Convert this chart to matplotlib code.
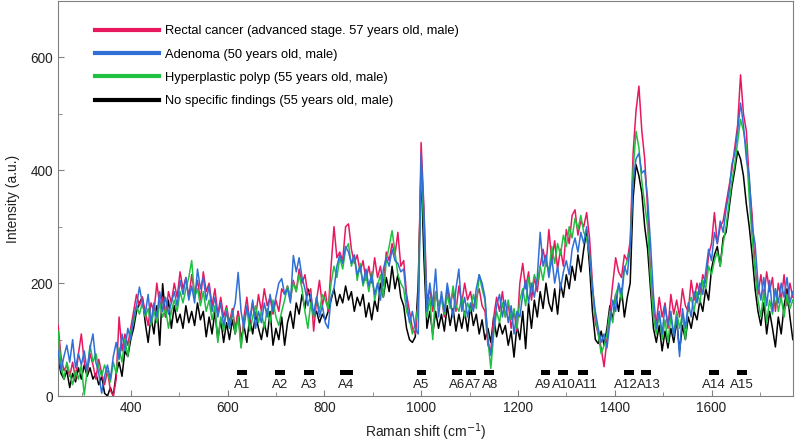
import numpy as np
import matplotlib

matplotlib.use("Agg")
import matplotlib.pyplot as plt
from matplotlib.ticker import MultipleLocator

# Raman shift grid (cm^-1), 6 cm^-1 spacing
shift = np.arange(250, 1769, 6)

rectal = [
    125, 70, 45, 55, 35, 60, 30, 75, 110, 60,
    40, 75, 55, 30, 65, 40, 20, 45, 10, 0,
    30, 140, 80, 110, 90, 120, 150, 180, 160, 175,
    150, 125, 165, 150, 200, 160, 175, 140, 185, 165,
    200, 175, 220, 190, 210, 175, 215, 180, 205, 170,
    220, 185, 200, 160, 190, 145, 175, 140, 160, 130,
    155, 120, 150, 87, 140, 175, 130, 165, 140, 180,
    150, 190, 160, 175, 145, 170, 150, 190, 180, 195,
    170, 205, 185, 225, 200, 215, 180, 190, 115, 170,
    205, 160, 185, 150, 230, 300, 245, 255, 240, 300,
    305, 260, 235, 250, 220, 240, 205, 230, 200, 245,
    210, 230, 195, 255, 240, 270, 250, 290, 230, 240,
    180, 150, 120, 110, 170, 449, 330, 170, 190, 150,
    185, 160, 175, 140, 190, 160, 185, 150, 195, 165,
    200, 170, 185, 155, 175, 190, 160, 150, 90, 80,
    140, 175, 150, 185, 140, 165, 120, 150, 115, 200,
    235, 190, 220, 170, 210, 185, 230, 260, 230, 295,
    240, 275, 225, 260, 230, 295, 270, 320, 330, 285,
    310, 300, 325, 280, 200, 130, 110, 85, 52, 100,
    150, 200, 245, 220, 210, 250, 240, 275, 430, 505,
    549, 470, 420, 330, 220, 150, 130, 175, 140, 165,
    120, 180, 145, 170, 140, 190, 160, 150, 205, 170,
    200, 180, 215, 200, 250, 270, 325, 270, 300, 310,
    340, 370, 400, 440, 480, 569, 500, 470, 380, 320,
    230, 180, 215, 175, 220, 185, 210, 150, 200, 170,
    215, 160, 200, 175,
]

adenoma = [
    80, 45, 70, 90, 60, 100, 50, 75, 55, 80,
    45, 85, 110, 60, 40, 5, 35, 55, 30, 70,
    95, 65, 110, 80, 120, 100, 140, 160, 193, 165,
    145, 180, 130, 165, 140, 185, 150, 175, 145, 165,
    185, 160, 205, 180, 210, 170, 195, 165, 225, 190,
    210, 170, 195, 150, 175, 140, 165, 125, 150, 120,
    145, 165, 219, 150, 120, 160, 135, 170, 120, 150,
    130, 165, 140, 180, 150, 175, 200, 208, 180, 190,
    165, 249, 220, 245, 210, 190, 160, 180, 145, 175,
    140, 160, 130, 120, 175, 190, 230, 250, 235, 265,
    255, 235, 250, 215, 230, 200, 225, 195, 215, 180,
    200, 170, 225, 245, 230, 260, 240, 235, 220, 225,
    170, 130, 150, 120, 110, 430, 320, 150, 200, 160,
    225, 140, 185, 150, 200, 170, 140, 190, 225, 150,
    175, 140, 165, 150, 190, 215, 200, 175, 100, 72,
    120, 160, 180, 140, 170, 130, 160, 110, 150, 140,
    180, 205, 165, 200, 175, 210, 290, 230, 250, 210,
    245, 200, 230, 190, 220, 240, 215, 260, 280, 255,
    290, 270, 300, 250, 190, 150, 120, 95, 110, 85,
    130, 170, 150, 200, 180, 230, 215, 265, 380, 420,
    430, 395, 400, 350, 270, 180, 120, 150, 110, 160,
    125, 150, 105, 140, 70, 155, 120, 165, 140, 185,
    165, 200, 180, 220, 260, 240, 290, 270, 310, 290,
    330, 360, 410, 430, 470, 519, 480, 420, 390, 300,
    270, 200, 170, 210, 160, 205, 150, 190, 165, 200,
    175, 210, 165, 185,
]

polyp = [
    115, 55, 30, 60, 40, 20, 45, 30, 55, 2,
    45, 90, 60, 75, 50, 35, 55, 40, 25, 60,
    40, 85, 60, 100, 70, 115, 130, 160, 145, 165,
    140, 155, 125, 150, 130, 165, 140, 155, 120, 150,
    170, 150, 185, 165, 190, 210, 240, 175, 190, 160,
    185, 150, 170, 135, 160, 95, 140, 115, 155, 120,
    150, 110, 140, 85, 130, 155, 115, 140, 160, 130,
    150, 120, 155, 130, 170, 140, 125, 150, 170, 195,
    175, 200, 185, 215, 190, 150, 120, 165, 140, 175,
    150, 180, 170, 155, 200, 230, 210, 245, 225, 260,
    270, 230, 250, 205, 235, 195, 215, 185, 220, 170,
    195, 215, 175, 240, 265, 293, 255, 215, 200, 190,
    150, 135, 110, 130, 160, 410, 290, 140, 175, 100,
    185, 160, 175, 145, 180, 155, 195, 160, 150, 175,
    140, 165, 150, 180, 155, 215, 190, 170, 100, 49,
    110, 150, 130, 165, 140, 170, 135, 155, 120, 170,
    190, 160, 210, 185, 215, 200, 230, 205, 240, 220,
    265, 235, 270, 250, 285, 265, 300, 280, 315, 295,
    320, 290, 280, 250, 190, 140, 110, 75, 90, 110,
    150, 130, 180, 195, 170, 225, 240, 260, 400, 469,
    440, 380, 340, 300, 210, 140, 110, 145, 100, 135,
    95, 140, 110, 150, 120, 145, 100, 160, 175, 150,
    185, 165, 205, 190, 230, 215, 240, 255, 230, 270,
    300, 340, 380, 410, 450, 490, 470, 440, 350, 280,
    220, 170, 140, 185, 130, 170, 145, 190, 150, 175,
    140, 180, 155, 170,
]

normal = [
    65, 40, 30, 45, 15, 40, 25, 50, 30, 55,
    35, 50, 30, 40, 20, 35, 5, 0, 15, 0,
    40, 60, 35, 80, 70, 100, 120, 150, 165, 175,
    130, 95, 140, 110, 160, 90, 199, 140, 170, 120,
    160, 130, 145, 120, 160, 130, 150, 125, 165, 135,
    150, 105, 140, 110, 150, 100, 135, 95, 130, 100,
    135, 110, 150, 100, 125, 95, 140, 110, 145, 120,
    100, 130, 105, 150, 90, 120, 100, 140, 90, 130,
    150, 120, 165, 145, 180, 155, 190, 170, 140, 150,
    130, 145, 135, 150, 170, 190, 160, 180, 165, 195,
    170, 185, 150, 175, 160, 180, 140, 165, 135, 170,
    150, 200, 175, 210, 185, 230, 190, 215, 175, 160,
    120, 100, 95, 105, 200, 400, 240, 120, 150, 110,
    150, 120, 145, 115, 160, 125, 155, 115, 145, 120,
    150, 115, 160, 125, 145, 110, 135, 100, 120, 95,
    140, 105, 130, 110, 125, 90, 115, 69, 125, 100,
    150, 84, 165, 120, 170, 140, 185, 155, 200, 165,
    150, 190, 145, 200, 175, 215, 190, 230, 205, 250,
    220, 260, 293, 230, 150, 100, 93, 115, 90, 120,
    160, 135, 180, 150, 190, 140, 175, 200, 350, 410,
    390, 360, 300, 260, 190, 120, 95, 125, 80, 115,
    85, 120, 95, 135, 80, 125, 100, 140, 120, 150,
    135, 170, 150, 190, 170, 225, 250, 265, 230, 280,
    290, 330, 370, 400, 434, 420, 390, 340, 300, 250,
    190, 150, 125, 165, 110, 150, 120, 87, 140, 110,
    160, 190, 140, 100,
]

band_labels = ["A1", "A2", "A3", "A4", "A5", "A6", "A7", "A8",
               "A9", "A10", "A11", "A12", "A13", "A14", "A15"]
band_centers = [630, 709, 768, 845, 1001, 1074, 1103, 1140,
                1257, 1293, 1334, 1430, 1465, 1605, 1663]
band_widths = [20, 20, 20, 27, 20, 20, 20, 20,
               20, 20, 20, 20, 20, 20, 20]
# label anchors sit slightly off the bar centres where the names crowd
label_x = [630, 709, 768, 845, 1001, 1074, 1108, 1142,
           1253, 1294, 1341, 1424, 1471, 1605, 1663]

series = [
    ("Rectal cancer (advanced stage. 57 years old, male)", rectal, "#e8185f"),
    ("Adenoma (50 years old, male)", adenoma, "#2f6fd6"),
    ("Hyperplastic polyp (55 years old, male)", polyp, "#20c040"),
    ("No specific findings (55 years old, male)", normal, "black"),
]

plt.rcParams["font.family"] = ["Liberation Sans", "DejaVu Sans"]
plt.rcParams["font.size"] = 10

fig = plt.figure(figsize=(7.96, 4.46), dpi=100)
ax = fig.add_axes([0.073, 0.112, 0.923, 0.886])

zorders = {"black": 2, "#e8185f": 3, "#20c040": 4, "#2f6fd6": 5}
for label, vals, color in series:
    ax.plot(shift, vals, color=color, lw=1.1, label=label, zorder=zorders[color])

ax.bar(band_centers, 10, bottom=37, width=band_widths, color="black", zorder=6)
for name, xc in zip(band_labels, label_x):
    ax.text(xc, 19, name, ha="center", va="center", fontsize=9.5, color="#222222")

ax.set_xlim(250, 1768)
ax.set_ylim(0, 700)
ax.xaxis.set_major_locator(MultipleLocator(200))
ax.xaxis.set_minor_locator(MultipleLocator(100))
ax.yaxis.set_major_locator(MultipleLocator(200))
ax.yaxis.set_minor_locator(MultipleLocator(100))
ax.tick_params(which="both", direction="in", colors="#808080", labelcolor="#222222",
               labelsize=9.8)
ax.tick_params(which="major", length=4)
ax.tick_params(which="minor", length=3)
for sp in ax.spines.values():
    sp.set_color("#808080")

ax.set_xlabel("Raman shift (cm$^{-1}$)", color="#222222", labelpad=5)
ax.set_ylabel("Intensity (a.u.)", color="#222222", labelpad=8)

leg = ax.legend(loc="upper left", bbox_to_anchor=(0.035, 0.968), frameon=False,
                fontsize=9.3, handlelength=4.9, handletextpad=0.5, labelspacing=0.88)
for line in leg.get_lines():
    line.set_linewidth(3)

fig.savefig("out.png", dpi=100)
